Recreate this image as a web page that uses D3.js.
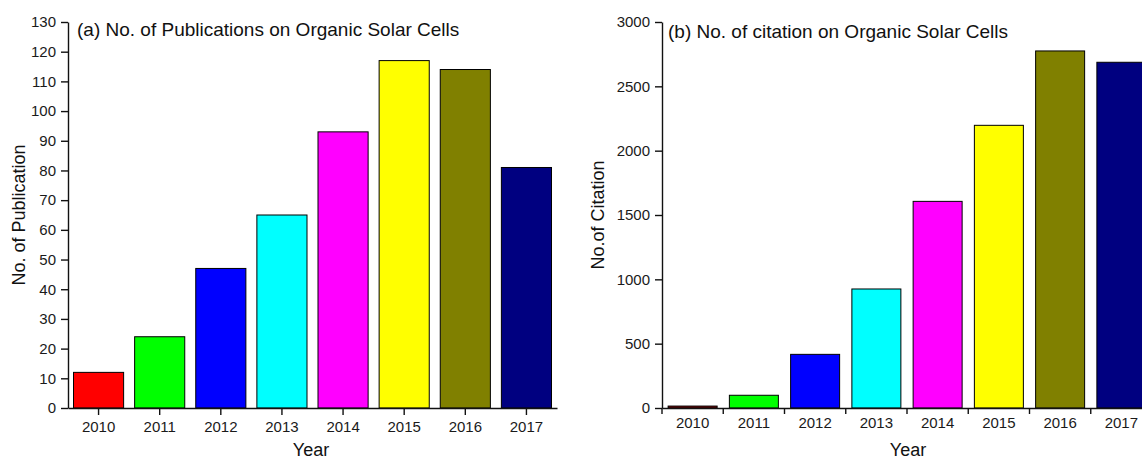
<!DOCTYPE html>
<html><head><meta charset="utf-8">
<script src="https://cdn.jsdelivr.net/npm/d3@7"></script>
<style>
body{margin:0;background:#fff;}
svg{display:block;font-family:"Liberation Sans",Arial,sans-serif;}
.domain,.tick line{stroke:#111;stroke-width:1.4;}
</style></head><body>
<svg id="c" width="1142" height="460"></svg>
<script>
const years = ["2010","2011","2012","2013","2014","2015","2016","2017"];
const publications = [12, 24, 47, 65, 93, 117, 114, 81];
const citations = [15, 99, 417, 925, 1606, 2197, 2775, 2687];
const colorsA = ["#FF0000","#00FF00","#0000FF","#00FFFF","#FF00FF","#FFFF00","#808000","#000080"];
const colorsB = ["#800000","#00FF00","#0000FF","#00FFFF","#FF00FF","#FFFF00","#808000","#000080"];
const pubTicks = d3.range(0, 131, 10);
const citTicks = [0, 500, 1000, 1500, 2000, 2500, 3000];

const svg = d3.select("#c");
const FONT = '"Liberation Sans", Arial, sans-serif';

function styleAxis(sel){
  sel.attr("font-family", FONT).attr("font-size", 15);
  sel.selectAll(".tick text").attr("fill", "#1a1a1a");
}

function panel(o){
  const g = svg.append("g");
  const x = d3.scaleBand().domain(years).range([o.x0, o.x1]).paddingInner(o.pi).paddingOuter(o.po);
  const y = d3.scaleLinear().domain([0, o.max]).range([408, 22]);
  g.selectAll("rect").data(o.values).join("rect")
    .attr("x", (d,i)=>x(years[i])).attr("width", x.bandwidth())
    .attr("y", d=>y(d)).attr("height", d=>y(0)-y(d))
    .attr("fill", (d,i)=>o.colors[i]).attr("stroke","#000").attr("stroke-width",1);
  g.append("g").attr("transform",`translate(${o.x0},0)`)
    .call(d3.axisLeft(y).tickValues(o.ticks).tickFormat(d3.format("d")).tickSize(7).tickSizeOuter(0).tickPadding(5))
    .call(styleAxis);
  const xg = g.append("g").attr("transform",`translate(0,${y(0)})`);
  if(o.centerTicks){
    xg.call(d3.axisBottom(x).tickSize(7).tickSizeOuter(0).tickPadding(6)).call(styleAxis);
  } else {
    xg.call(d3.axisBottom(x).tickSize(0).tickSizeOuter(0).tickPadding(9)).call(styleAxis);
    const step = x.step();
    const bounds = years.map((d,i)=> i===0 ? o.x0 : x(d) - x.paddingInner()*step/2);
    xg.selectAll(".bt").data(bounds).join("line").attr("class","bt")
      .attr("x1",d=>d).attr("x2",d=>d)
      .attr("y1",0).attr("y2",6).attr("stroke","#111").attr("stroke-width",1.4);
  }
  g.append("text").attr("x",o.tx).attr("y",o.ty).attr("font-size",19).attr("fill","#111").text(o.title);
  g.append("text").attr("transform",`translate(${o.ylx},${(22+408)/2}) rotate(-90)`)
    .attr("text-anchor","middle").attr("font-size",18).attr("fill","#111").text(o.ylabel);
  g.append("text").attr("x",o.xlx).attr("y",456).attr("text-anchor","middle")
    .attr("font-size",18).attr("fill","#111").text("Year");
}

panel({x0:68,x1:557,pi:0.18,po:0.09,max:130,values:publications,colors:colorsA,ticks:pubTicks,
  centerTicks:true,title:"(a) No. of Publications on Organic Solar Cells",tx:77,ty:36,
  ylabel:"No. of Publication",ylx:25,xlx:311});
panel({x0:662,x1:1152,pi:0.2,po:0.1,max:3000,values:citations,colors:colorsB,ticks:citTicks,
  centerTicks:false,title:"(b) No. of citation on Organic Solar Cells",tx:668,ty:38,
  ylabel:"No.of Citation",ylx:604,xlx:908});
</script></body></html>
